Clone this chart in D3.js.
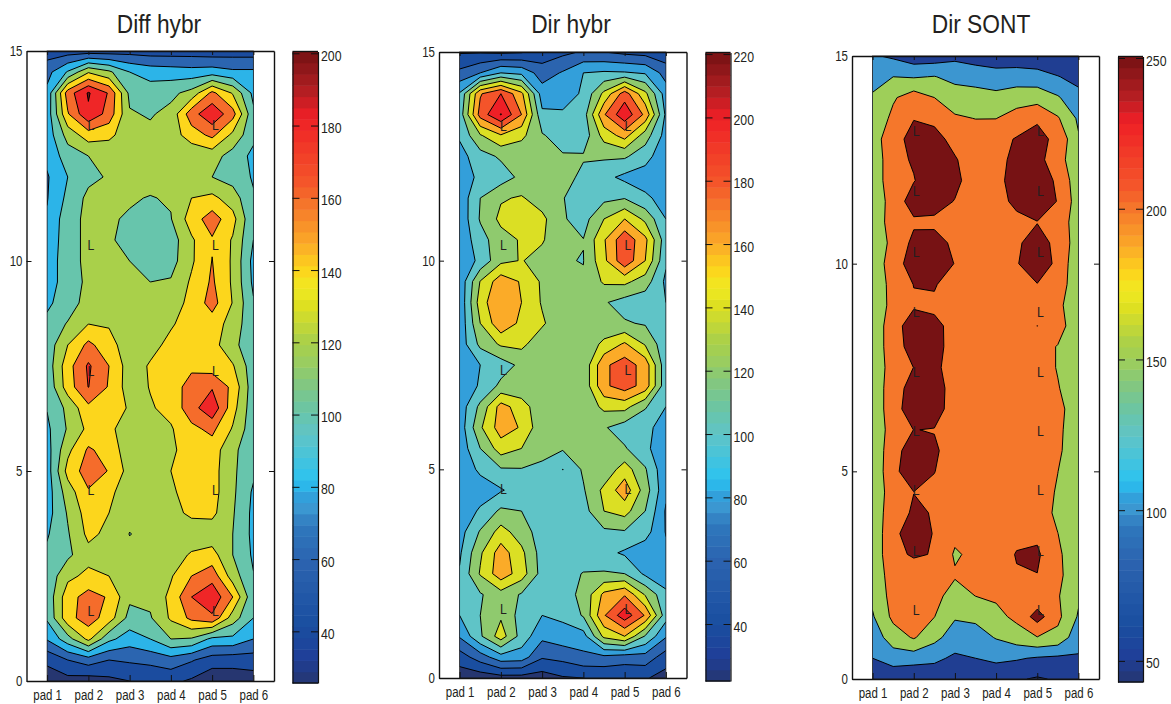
<!DOCTYPE html>
<html><head><meta charset="utf-8">
<script src="https://cdn.jsdelivr.net/npm/d3@7"></script>
<style>
html,body{margin:0;padding:0;background:#fff}
svg{display:block}
text{font-family:"Liberation Sans",Arial,sans-serif;fill:#231f20}
</style></head><body>
<svg id="chart" width="1171" height="704"></svg>
<script>
// ---------- data: one array per pad column (half-pad steps), each from y=15 down to y=0 in 0.5 steps
const padLabels = ["pad 1","pad 2","pad 3","pad 4","pad 5","pad 6"];
const yTickValues = [0,5,10,15];
const gridColumns = [1,1.5,2,2.5,3,3.5,4,4.5,5,5.5,6];
const gridRows = d3.range(0,31).map(i => 15 - i*0.5);

const diffHybr = [
[50,73,85,88,88,85,78,79,82,85,88,92,97,104,108,108,104,101,96,92,90,90,92,98,104,106,106,103,82,44,30],
[50,102,170,158,128,110,100,105,112,112,112,108,108,122,140,152,150,125,122,135,147,130,122,118,116,135,152,153,112,60,33],
[50,138,202,197,150,120,115,125,125,125,125,125,130,140,165,183,180.5,155,145,163,170,158,150,145,133,145,168,170,145,70,30],
[50,124,178,172,145,125,122,125,122,122,122,125,127,138,148,160,158,150,145,152,159,145,140,135,125,140,158,150,105,60,35],
[52,100,115,122,128,128,125,122,118,115,120,122,125,126,128,130,130,138,128,128,132,128,125,119.5,125,125,124,113,90,63,40],
[50,92,110,118,125,128,127,119,110,108,112,120,126,127,134,142,141,138,128,125,125,125,125,125,125,125,125,118,100,66,42],
[50,90,115,126,130,130,128,122,119,110,112,122,130,138,145,148,148,146,138,138,140,137,132,128,128,138,145,143,120,72,45],
[50,88,127,172,150,125,125,140,150,137,137,143,146,148,150,155,170,172,155,145,145,148,145,125,143,160,180,165,118,62,37],
[48,90,165,195,165,128,120,145,170,158,160.5,163,168,150,148,150,178,195,165,150,148,148,145,128,148,172,195,176,95,50,25],
[50,84,138,168,135,112,112,130,147,138,137,137,139,132,125,142,155,148,138,125,124,124,122,120,120,130,160,130,95,48,28],
[50,84,95,104,105,95,98,102,102,100,94,96,102,105,108,108,108,107,107,106,104,97,95,95,97,101,104,100,80,50,30]
];
const dirHybr = [
[38,65,102,108,103,92,88,86,85,85,85,85,84,85,88,88,88,88,88,87,86,86,86,92,97,102,104,100,82,50,28],
[38,80,178,188,138,112,105,120,122,112,105,141,150,140,125,100,102,125,137,120,104,90,103,122,137,142,118,120,117,70,28],
[36,100,200,221,158,123,110,138,145,132,135,172,180,175,143,110,125,168,170,150,118,98,124,148,170,172,132,137,150,92,32],
[38,95,165,180,145,125,125,142,148,142,141,158,160,155,145,125,125,150,158,140,119,110,120,130,145,150,118,112,112,90,32],
[48,70,90,104,122,125,125,130,145,142,133,137,138,143,127,124,125,125,125,123,118,110,110,110,111,112,110,100,85,62,30],
[55,82,90,103,110,122,128,121,122,125,121,125,125,125,125,125,124,124,124,122,99.7,108,108,108,108,112,112,104,92,66,38],
[62,100,103,110,108,122,115,108,112,120.5,119.5,122,125,125,125,125,125,125,125,125,123,118,112,110,108,121,125,122,92,75,40],
[60,103,145,178,148,123,106,115,140,158,155,143,122,125,145,176,176,145,122,125,125,145,140,116,106,122,165,178,145,75,42],
[55,102,190,215,168,123,95,119,160,195,195,145,112,122,163,190,190,147,110,122,150,172,148,118,97,120,178,212,160,70,42],
[52,98,145,175,130,108,90,104,135,165,160,130,108,118,138,172,172,122,105,105,122,130,120,108,88,96,138,178,118,72,42],
[46,72,90,96,92,85,84,92,100,108,103,96,100,105,106,106,106,100,92,85,84,84,78,79,84,86,105,108,82,50,32]
];
const dirSont = [
[105,135,155,162,178,162,162,160,165,170,162,160,160,160,162,162,162,160,160,160,160,165,165,165,165,165,162,145,122,100,70],
[92,150,194,212,230,238,238,225,225,212,230,220,218,234,232,225,232,234,225,234,238,225,232,238,238,225,218,212,175,125,62],
[70,146,225,248,268,254,248,270,243,262,270,251,245,270,266,250.5,266,272,250.5,272,279,249.5,255,275,255.4,225,215,212,205,122,55],
[72,152,200,240,265,270,275,270,240,268,275,255,240,262,262,257,265,263,248.8,254.4,251.2,240,248,247,247.4,222,215,201,165,110,70],
[88,135,176,206,236,254,262,248,225,240,248.5,220,220,235,236,236,236,236,225,236,225,215,212,212,194,205,180,155,125,92,70],
[78,128,172,199,225,225,225,220,212,212,220,212,212,212,212,212,212,212,212,212,212,212,212,212,212,212,200.5,160,130,100,65],
[72,120,165,199,236,236,236,236,225,215,212,212,212,212,212,212,212,212,212,212,212,212,212,212,215,215,208,185,153,112,60],
[65,128,173,225,253,262,270,259,240,245.8,248,240,225,225,225,222,220,220,220,220,220,222,225,232,254,245,225,212,175,105,55],
[62,122,178,245,262,265,272,270,249,262,268,249,230,250.4,225,225,222,222,222,222,222,225,225,240,258,249,215,270,198,95,45],
[60,102,155,205,240,223,243.5,248.5,225,242,243,235,212,225,197,197,203,220,212,208,200.5,195,190,200.5,208,212,204,212,185,90,55],
[55,85,115,142,155,160,168,175,178,170,157,157,166,161,165,165,170,161,166,170,165,165,165,165,170,166,158,145,118,95,70]
];
const lMarkPads = [2.06,5.08];
const lRowsFive = [13.24,10.38,7.4,4.55,1.67];
const lRowsNine = [13.2,11.75,10.3,8.85,7.4,5.97,4.55,3.1,1.66];
const levelsDiffHybr = [40,60,80,100,120,140,160,180,200];
const levelsDirHybr = [40,60,80,100,120,140,160,180,200,220];
const levelsDirSont = [50,100,150,200,250];
const barTicksDiffHybr = [40,60,80,100,120,140,160,180,200];
const barTicksDirHybr = [40,60,80,100,120,140,160,180,200,220];
const barTicksDirSont = [50,100,150,200,250];

// shared colour map (position along the bar -> colour)
const mapStops = [0,.04,.09,.19,.25,.275,.30,.32,.394,.43,.483,.517,.54,.60,.626,.655,.695,.758,.79,.897,.94,1];
const mapColors = ["#263670","#1f3f98","#1a4ea0","#2b63af","#2f78bd","#3c96d0","#2fa3de","#2ac3f1","#60c4c6","#68c5a8","#88c878","#9fcf58","#a9d04a","#e0e020","#f0ea22","#fcd51c","#fbab28","#f5762b","#f4572a","#ee1f26","#b01e22","#751113"];
const cmap = d3.scaleLinear().domain(mapStops).range(mapColors).interpolate(d3.interpolateRgb).clamp(true);

const panels = [
 {title:"Diff hybr",tx:159,data:diffHybr,levels:levelsDiffHybr,barTicks:barTicksDiffHybr,lRows:lRowsFive,
  left:26.5,right:274,top:51,bottom:681,barL:292.5,barR:318,barTop:51.5,barBot:683,barMin:25.7,barMax:200.5},
 {title:"Dir hybr",tx:571,data:dirHybr,levels:levelsDirHybr,barTicks:barTicksDirHybr,lRows:lRowsFive,
  left:439,right:686.5,top:52,bottom:678,barL:705.5,barR:730.5,barTop:52.5,barBot:681,barMin:22,barMax:220.5},
 {title:"Dir SONT",tx:981,data:dirSont,levels:levelsDirSont,barTicks:barTicksDirSont,lRows:lRowsNine,
  left:852,right:1099,top:56,bottom:679,barL:1118,barR:1143,barTop:56.5,barBot:682,barMin:43,barMax:250.5}
];

const svg = d3.select("#chart");
panels.forEach((p,idx)=>{
  const g = svg.append("g");
  const x = d3.scaleLinear().domain([0.5,6.5]).range([p.left,p.right]);
  const y = d3.scaleLinear().domain([0,15]).range([p.bottom,p.top]);
  const col = v => cmap((v-p.barMin)/(p.barMax-p.barMin));
  const nx = gridColumns.length, ny = gridRows.length;
  const flat = [];
  gridRows.forEach((_,r)=>gridColumns.forEach((_,c)=>flat.push(p.data[c][r])));
  const contours = d3.contours().size([nx,ny]).thresholds(p.levels)(flat);
  const path = d3.geoPath(d3.geoTransform({point(cx,cy){
    this.stream.point(x(1+(cx-0.5)*0.5), y(15-(cy-0.5)*0.5));
  }}));
  const clipId = "clip"+idx;
  g.append("clipPath").attr("id",clipId).append("rect")
    .attr("x",x(1)).attr("y",y(15)).attr("width",x(6)-x(1)).attr("height",y(0)-y(15));
  const plot = g.append("g").attr("clip-path",`url(#${clipId})`);
  plot.append("rect").attr("x",x(1)).attr("y",y(15)).attr("width",x(6)-x(1)).attr("height",y(0)-y(15))
    .attr("fill",col(p.barMin));
  plot.selectAll("path").data(contours).join("path")
    .attr("d",path).attr("fill",d=>col(d.value)).attr("stroke","#000").attr("stroke-width",1).attr("stroke-linejoin","round");
  g.append("rect").attr("x",x(1)).attr("y",y(15)).attr("width",x(6)-x(1)).attr("height",y(0)-y(15))
    .attr("fill","none").attr("stroke","#222").attr("stroke-width",0.8);

  // L markers
  p.lRows.forEach(r=>lMarkPads.forEach(pd=>{
    g.append("text").attr("class","lmark").attr("x",x(pd)).attr("y",y(r)).attr("dy","0.36em").attr("text-anchor","middle")
      .attr("font-size",15).style("fill","#231f20").text("L");
  }));

  // axes
  const bottom = d3.axisBottom(x).tickValues([1,2,3,4,5,6]).tickFormat((d,i)=>padLabels[i]).tickSizeInner(-6).tickSizeOuter(0).tickPadding(9);
  const top = d3.axisTop(x).tickValues([1,2,3,4,5,6]).tickFormat("").tickSizeInner(-4).tickSizeOuter(0);
  const left = d3.axisLeft(y).tickValues(yTickValues).tickSizeInner(-5).tickSizeOuter(0).tickPadding(4).tickFormat(d3.format("d"));
  const right = d3.axisRight(y).tickValues(yTickValues.slice(1,3)).tickFormat("").tickSizeInner(-5).tickSizeOuter(0);
  const ag = g.append("g");
  ag.append("g").attr("transform",`translate(0,${p.bottom})`).call(bottom);
  ag.append("g").attr("transform",`translate(0,${p.top})`).call(top);
  ag.append("g").attr("transform",`translate(${p.left},0)`).call(left);
  ag.append("g").attr("transform",`translate(${p.right},0)`).call(right);
  ag.selectAll("text").attr("font-size",14).attr("font-family",'"Liberation Sans",Arial,sans-serif').style("fill","#231f20");
  ag.selectAll(".domain").attr("stroke","#111").attr("stroke-width",1.4);
  ag.selectAll(".tick line").attr("stroke","#111").attr("stroke-width",1);

  // colour bar
  const yb = d3.scaleLinear().domain([p.barMin,p.barMax]).range([p.barBot,p.barTop]);
  const steps = d3.range(56);
  const bar = g.append("g");
  bar.selectAll("rect").data(steps).join("rect")
    .attr("x",p.barL).attr("width",p.barR-p.barL)
    .attr("y",i=>yb(p.barMin+(i+1)/56*(p.barMax-p.barMin)))
    .attr("height",(p.barBot-p.barTop)/56+0.5)
    .attr("fill",i=>col(p.barMin+(i+0.5)/56*(p.barMax-p.barMin)));
  const barLeft = d3.axisLeft(yb).tickValues(p.barTicks).tickFormat("").tickSizeInner(-7).tickSizeOuter(0);
  const barRight = d3.axisRight(yb).tickValues(p.barTicks).tickFormat(d3.format("d")).tickSizeInner(-7).tickSizeOuter(0).tickPadding(3);
  const bg = g.append("g");
  bg.append("g").attr("transform",`translate(${p.barL},0)`).call(barLeft);
  bg.append("g").attr("transform",`translate(${p.barR},0)`).call(barRight);
  bg.selectAll("text").attr("font-size",15).attr("dy","0.47em").attr("font-family",'"Liberation Sans",Arial,sans-serif').style("fill","#231f20");
  bg.selectAll(".domain").attr("stroke","#111").attr("stroke-width",1.2);
  bg.selectAll(".tick line").attr("stroke","#111").attr("stroke-width",1);
  g.append("line").attr("x1",p.barL).attr("x2",p.barR).attr("y1",p.barTop).attr("y2",p.barTop).attr("stroke","#111").attr("stroke-width",1.4);
  g.append("line").attr("x1",p.barL).attr("x2",p.barR).attr("y1",p.barBot).attr("y2",p.barBot).attr("stroke","#111").attr("stroke-width",1.4);

  // title
  g.append("text").attr("class","ttl").attr("x",p.tx).attr("y",33).attr("text-anchor","middle").attr("font-size",26).style("fill","#231f20").text(p.title);
});

// the reference uses a condensed face: condense every label
svg.selectAll("text").each(function(){
  const len = this.getComputedTextLength();
  if(!len) return;
  const k = this.classList.contains("ttl") ? 0.875 : 0.82;
  this.setAttribute("textLength", len*k);
  this.setAttribute("lengthAdjust","spacingAndGlyphs");
});
</script></body></html>
